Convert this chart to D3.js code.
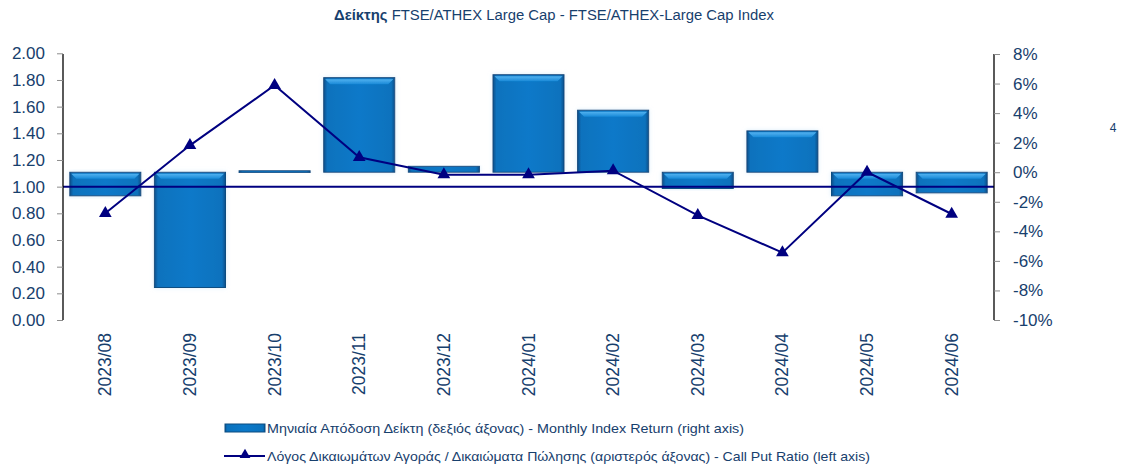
<!DOCTYPE html>
<html>
<head>
<meta charset="utf-8">
<script src="https://cdn.jsdelivr.net/npm/d3@7"></script>
<style>
  body { margin: 0; background: #fff; }
  text { font-family: "Liberation Sans", Arial, sans-serif; fill: #17406d; }
</style>
</head>
<body>
<div id="chart"></div>
<script>
(function() {

    var months = ["2023/08","2023/09","2023/10","2023/11","2023/12","2024/01",
                  "2024/02","2024/03","2024/04","2024/05","2024/06"];
    // monthly index return (right axis)
    var monthlyReturn = [-0.016, -0.078, 0.001, 0.064, 0.004, 0.066,
                         0.042, -0.011, 0.028, -0.016, -0.014];
    // call / put ratio (left axis)
    var callPut = [0.80, 1.31, 1.76, 1.22, 1.09, 1.09,
                   1.12, 0.785, 0.505, 1.11, 0.795];
    var leftTicks = [0, 0.2, 0.4, 0.6, 0.8, 1.0, 1.2, 1.4, 1.6, 1.8, 2.0];
    var rightTicks = [-0.10, -0.08, -0.06, -0.04, -0.02, 0, 0.02, 0.04, 0.06, 0.08];

    var width = 1122, height = 464;
    var plot = {left: 63, right: 994, top: 54, bottom: 320};

    var svg = d3.select("#chart")
            .append("svg")
            .attr("width", width)
            .attr("height", height);

    var defs = svg.append("defs");
    var grad = defs.append("linearGradient").attr("id", "barGrad")
        .attr("x1", 0).attr("x2", 1).attr("y1", 0).attr("y2", 0);
    grad.append("stop").attr("offset", "0%").attr("stop-color", "#0b4f8a");
    grad.append("stop").attr("offset", "5%").attr("stop-color", "#0a72bd");
    grad.append("stop").attr("offset", "50%").attr("stop-color", "#0b79c9");
    grad.append("stop").attr("offset", "95%").attr("stop-color", "#0a72bd");
    grad.append("stop").attr("offset", "100%").attr("stop-color", "#0b4f8a");
    var hi = defs.append("linearGradient").attr("id", "hiGrad")
        .attr("x1", 0).attr("x2", 0).attr("y1", 0).attr("y2", 1);
    hi.append("stop").attr("offset", "0%").attr("stop-color", "#52b2f0");
    hi.append("stop").attr("offset", "100%").attr("stop-color", "#1a8ad8");
    var glow = defs.append("filter").attr("id", "glow")
        .attr("x", "-10%").attr("y", "-10%").attr("width", "120%").attr("height", "120%");
    glow.append("feGaussianBlur").attr("in", "SourceAlpha").attr("stdDeviation", 2).attr("result", "b");
    glow.append("feFlood").attr("flood-color", "#bfe0f7").attr("flood-opacity", 0.6);
    glow.append("feComposite").attr("in2", "b").attr("operator", "in").attr("result", "g");
    var mg = glow.append("feMerge");
    mg.append("feMergeNode").attr("in", "g");
    mg.append("feMergeNode").attr("in", "SourceGraphic");

    var x = d3.scaleBand()
        .domain(months)
        .range([plot.left, plot.right])
        .paddingInner(0.16)
        .paddingOuter(0.08);

    var yL = d3.scaleLinear().domain([0, 2]).range([plot.bottom, plot.top - 0.7]);
    var yR = d3.scaleLinear().domain([-0.10, 0.08]).range([plot.bottom, plot.top]);

    var barData = months.map(function(m, i) { return {month: m, value: monthlyReturn[i]}; });

    /*
        Bars (right axis)
    */
    var bars = svg.append("g").selectAll(".bar")
        .data(barData)
        .enter().append("g")
        .attr("class", "bar")
        .attr("filter", "url(#glow)");

    bars.append("rect")
        .attr("x", function(d) { return x(d.month); })
        .attr("width", x.bandwidth())
        .attr("y", function(d) { return Math.min(yR(0), yR(d.value)); })
        .attr("height", function(d) { return Math.max(2, Math.abs(yR(d.value) - yR(0))); })
        .attr("fill", "url(#barGrad)")
        .attr("stroke", "#0d4d80")
        .attr("stroke-width", 1);

    bars.filter(function(d) { return Math.abs(yR(d.value) - yR(0)) > 10; })
        .append("path")
        .attr("d", function(d) {
            var top = Math.min(yR(0), yR(d.value)) + 1.5;
            var x0 = x(d.month) + 1.5, x1 = x(d.month) + x.bandwidth() - 1.5;
            return "M" + x0 + "," + top + "L" + x1 + "," + top +
                   "L" + (x1 - 5) + "," + (top + 5) + "L" + (x0 + 5) + "," + (top + 5) + "Z";
        })
        .attr("fill", "url(#hiGrad)");

    /*
        Reference line at 1.00
    */
    svg.append("line")
        .attr("x1", plot.left).attr("x2", plot.right)
        .attr("y1", yL(1)).attr("y2", yL(1))
        .attr("stroke", "#000080")
        .attr("stroke-width", 2);

    /*
        Call put ratio line (left axis)
    */
    var line = d3.line()
        .x(function(d, i) { return x(months[i]) + x.bandwidth() / 2; })
        .y(function(d) { return yL(d); });

    svg.append("path")
        .datum(callPut)
        .attr("d", line)
        .attr("fill", "none")
        .attr("stroke", "#000080")
        .attr("stroke-width", 2);

    var tri = d3.symbol().type(d3.symbolTriangle).size(70);
    svg.selectAll(".marker")
        .data(callPut)
        .enter().append("path")
        .attr("class", "marker")
        .attr("d", tri)
        .attr("transform", function(d, i) {
            return "translate(" + (x(months[i]) + x.bandwidth() / 2) + "," + yL(d) + ")";
        })
        .attr("fill", "#000080");

    /*
        Axes
    */
    var pct = function(d) { return Math.round(d * 100) + "%"; };
    var leftAxis = svg.append("g")
        .attr("transform", "translate(" + plot.left + ",0)")
        .call(d3.axisLeft(yL).tickValues(leftTicks).tickSize(6).tickPadding(12)
              .tickFormat(d3.format(".2f")));
    var rightAxis = svg.append("g")
        .attr("transform", "translate(" + plot.right + ",0)")
        .call(d3.axisRight(yR).tickValues(rightTicks).tickSize(6).tickPadding(13)
              .tickFormat(pct));

    [leftAxis, rightAxis].forEach(function(g) {
        g.select(".domain").attr("stroke", "#000").attr("stroke-width", 1.3)
            .attr("d", function() {
                return "M0," + plot.top + "V" + plot.bottom;
            });
        g.selectAll(".tick line").attr("stroke", "#8c8c8c");
        g.selectAll(".tick text")
            .attr("fill", "#17406d")
            .style("font-size", "17px")
            .style("font-family", "'Liberation Sans', Arial, sans-serif");
    });

    svg.append("g").selectAll(".xlabel")
        .data(months)
        .enter().append("text")
        .attr("class", "xlabel")
        .attr("transform", function(d) {
            return "translate(" + (x(d) + x.bandwidth() / 2 + 6) + ",333) rotate(-90)";
        })
        .attr("text-anchor", "end")
        .style("font-size", "17.5px")
        .text(function(d) { return d; });

    /*
        Title
    */
    var title = svg.append("text")
        .attr("x", 554).attr("y", 20)
        .attr("text-anchor", "middle")
        .style("font-size", "14px")
        .attr("textLength", 440)
        .attr("lengthAdjust", "spacingAndGlyphs");
    title.append("tspan").style("font-weight", "bold").text("Δείκτης ");
    title.append("tspan").text("FTSE/ATHEX Large Cap - FTSE/ATHEX-Large Cap Index");

    svg.append("text")
        .attr("x", 1113).attr("y", 132)
        .attr("text-anchor", "middle")
        .style("font-size", "12px")
        .text("4");

    /*
        Legend
    */
    var legend = svg.append("g");
    legend.append("rect")
        .attr("x", 225).attr("y", 424).attr("width", 40).attr("height", 8)
        .attr("fill", "url(#barGrad)")
        .attr("stroke", "#0d4d80");
    legend.append("text")
        .attr("x", 267).attr("y", 433)
        .style("font-size", "13.5px")
        .attr("textLength", 477)
        .attr("lengthAdjust", "spacingAndGlyphs")
        .text("Μηνιαία Απόδοση Δείκτη (δεξιός άξονας) - Monthly Index Return (right axis)");

    legend.append("line")
        .attr("x1", 224).attr("x2", 265).attr("y1", 456).attr("y2", 456)
        .attr("stroke", "#000080").attr("stroke-width", 2);
    legend.append("path")
        .attr("d", d3.symbol().type(d3.symbolTriangle).size(50))
        .attr("transform", "translate(245,455)")
        .attr("fill", "#000080");
    legend.append("text")
        .attr("x", 267).attr("y", 461)
        .style("font-size", "13.5px")
        .attr("textLength", 603)
        .attr("lengthAdjust", "spacingAndGlyphs")
        .text("Λόγος Δικαιωμάτων Αγοράς / Δικαιώματα Πώλησης (αριστερός άξονας) - Call Put Ratio (left axis)");

})();
</script>
</body>
</html>
